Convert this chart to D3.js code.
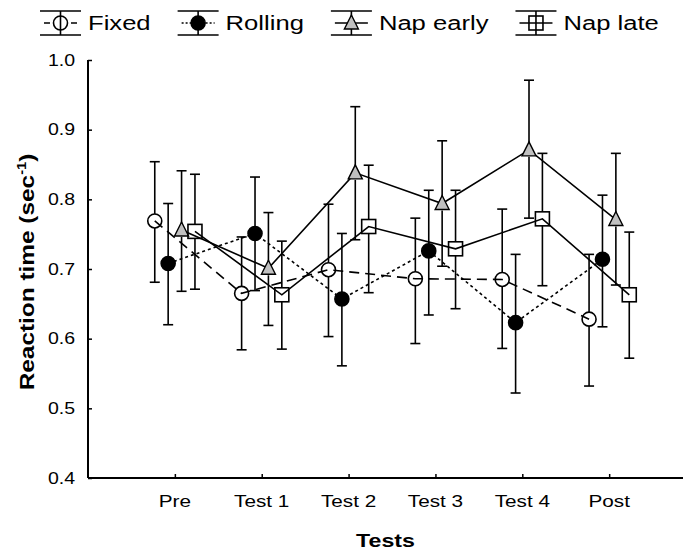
<!DOCTYPE html>
<html lang="en">
  <head>
    <meta charset="UTF-8" />
    <script src="https://d3js.org/d3.v7.min.js"></script>
    <title>Reaction time</title>
    <style>
      body { margin: 0; background: #fff; }
      text { font-family: Arial, "Liberation Sans", sans-serif; fill: #000; }
    </style>
  </head>
  <body>
    <script>
      // tests along the x axis
      let tests = ["Pre", "Test 1", "Test 2", "Test 3", "Test 4", "Post"];
      let yTicks = [0.4, 0.5, 0.6, 0.7, 0.8, 0.9, 1.0];

      // group means and error bar ends, one value per test
      let fixedMean = [0.769, 0.665, 0.699, 0.686, 0.685, 0.628];
      let fixedHi = [0.854, 0.746, 0.793, 0.773, 0.786, 0.721];
      let fixedLo = [0.681, 0.584, 0.603, 0.593, 0.586, 0.532];

      let rollingMean = [0.708, 0.751, 0.657, 0.726, 0.623, 0.714];
      let rollingHi = [0.794, 0.832, 0.751, 0.813, 0.721, 0.806];
      let rollingLo = [0.620, 0.669, 0.561, 0.634, 0.522, 0.617];

      let napEarlyMean = [0.756, 0.701, 0.838, 0.794, 0.871, 0.771];
      let napEarlyHi = [0.841, 0.781, 0.933, 0.884, 0.971, 0.866];
      let napEarlyLo = [0.668, 0.619, 0.742, 0.704, 0.773, 0.677];

      let napLateMean = [0.754, 0.663, 0.761, 0.729, 0.772, 0.663];
      let napLateHi = [0.836, 0.740, 0.849, 0.813, 0.866, 0.753];
      let napLateLo = [0.671, 0.585, 0.666, 0.643, 0.676, 0.572];

      let series = [
        { name: "Fixed", mean: fixedMean, hi: fixedHi, lo: fixedLo, shape: "circle", fill: "none", dash: "10,6", legDash: "6,21" },
        { name: "Rolling", mean: rollingMean, hi: rollingHi, lo: rollingLo, shape: "circle", fill: "#000", dash: "3,3", legDash: "2,2" },
        { name: "Nap early", mean: napEarlyMean, hi: napEarlyHi, lo: napEarlyLo, shape: "triangle", fill: "#c0c0c0", dash: null, legDash: null },
        { name: "Nap late", mean: napLateMean, hi: napLateHi, lo: napLateLo, shape: "square", fill: "none", dash: null, legDash: null }
      ];

      let svg = d3
        .select("body")
        .append("svg")
        .attr("width", 687)
        .attr("height", 553);

      let plotLeft = 88,
        plotRight = 683,
        plotTop = 60,
        plotBottom = 478;

      // category index -> pixel, with room left of "Pre"
      let x = d3.scaleLinear().domain([-1, 5.85]).range([plotLeft, plotRight]);
      let y = d3.scaleLinear().domain([0.4, 1.0]).range([plotBottom, plotTop]);
      let step = 13.4; // horizontal spread between the four groups
      let markR = 7;

      function offset(k) {
        return (k - 1.5) * step;
      }

      // the exported fonts run a bit wide, so text is stretched sideways
      let stretch = 1.22;
      function wideText(parent, tx, ty, size, str, anchor, rotated) {
        let g = parent
          .append("g")
          .attr("transform", `translate(${tx},${ty})${rotated ? " rotate(-90)" : ""} scale(${stretch},1)`);
        return g
          .append("text")
          .attr("text-anchor", anchor)
          .style("font-size", size + "px")
          .text(str);
      }

      // axes
      let yAxis = svg
        .append("g")
        .attr("transform", `translate(${plotLeft},0)`)
        .call(d3.axisRight(y).tickValues(yTicks).tickSize(4).tickFormat(""));
      yAxis.select(".domain").remove();
      yAxis.selectAll("line").attr("stroke-width", 1.5);

      let xAxis = svg
        .append("g")
        .attr("transform", `translate(0,${plotBottom})`)
        .call(d3.axisTop(x).tickValues(d3.range(tests.length)).tickSize(4).tickFormat(""));
      xAxis.select(".domain").remove();
      xAxis.selectAll("line").attr("stroke-width", 1.5);

      svg.append("line")
        .attr("x1", plotLeft).attr("x2", plotLeft)
        .attr("y1", plotTop).attr("y2", plotBottom)
        .attr("stroke", "#000").attr("stroke-width", 2);
      svg.append("line")
        .attr("x1", plotLeft).attr("x2", plotRight)
        .attr("y1", plotBottom).attr("y2", plotBottom)
        .attr("stroke", "#000").attr("stroke-width", 2);

      yTicks.forEach(function (d) {
        wideText(svg, plotLeft - 13, y(d), 16, d3.format(".1f")(d), "end", false).attr("dy", "0.35em");
      });

      tests.forEach(function (d, i) {
        wideText(svg, x(i), plotBottom + 29, 17, d, "middle", false);
      });

      wideText(svg, (plotLeft + plotRight) / 2, 547, 19, "Tests", "middle", false)
        .style("font-weight", "bold");

      let yTitle = wideText(svg, 34, 272, 20, "", "middle", true).style("font-weight", "bold");
      yTitle.append("tspan").text("Reaction time (sec");
      yTitle.append("tspan").attr("dy", -8).style("font-size", "12px").text("-1");
      yTitle.append("tspan").attr("dy", 8).text(")");

      function drawMarker(g, shape, fill, cx, cy) {
        if (shape === "circle") {
          g.append("circle")
            .attr("cx", cx).attr("cy", cy).attr("r", markR)
            .attr("fill", fill).attr("stroke", "#000").attr("stroke-width", 1.6);
        } else if (shape === "triangle") {
          g.append("path")
            .attr("d", `M${cx},${cy - 8}L${cx + 7},${cy + 6}L${cx - 7},${cy + 6}Z`)
            .attr("fill", fill).attr("stroke", "#000").attr("stroke-width", 1.4);
        } else {
          g.append("rect")
            .attr("x", cx - markR).attr("y", cy - markR)
            .attr("width", markR * 2).attr("height", markR * 2)
            .attr("fill", fill).attr("stroke", "#000").attr("stroke-width", 1.6);
        }
      }

      let line = d3.line();

      // error bars stop at the marker edge
      series.forEach(function (s, k) {
        let g = svg.append("g").attr("stroke", "#000").attr("stroke-width", 1.6);
        s.mean.forEach(function (v, i) {
          let cx = x(i) + offset(k);
          let cy = y(v);
          g.append("line").attr("x1", cx).attr("x2", cx).attr("y1", cy - markR).attr("y2", y(s.hi[i]));
          g.append("line").attr("x1", cx).attr("x2", cx).attr("y1", cy + markR).attr("y2", y(s.lo[i]));
          g.append("line").attr("x1", cx - 5).attr("x2", cx + 5).attr("y1", y(s.lo[i])).attr("y2", y(s.lo[i]));
          g.append("line").attr("x1", cx - 5).attr("x2", cx + 5).attr("y1", y(s.hi[i])).attr("y2", y(s.hi[i]));
        });
      });

      // connecting lines
      series.forEach(function (s, k) {
        let pts = s.mean.map((v, i) => [x(i) + offset(k), y(v)]);
        svg.append("path")
          .attr("d", line(pts))
          .attr("fill", "none")
          .attr("stroke", "#000")
          .attr("stroke-width", 1.6)
          .attr("stroke-dasharray", s.dash);
      });

      // markers
      series.forEach(function (s, k) {
        let g = svg.append("g");
        s.mean.forEach(function (v, i) {
          drawMarker(g, s.shape, s.fill, x(i) + offset(k), y(v));
        });
      });

      // legend across the top
      let legY = 23;
      let lx = 40;
      series.forEach(function (s) {
        let g = svg.append("g").attr("stroke", "#000").attr("stroke-width", 1.6);
        let w = 41;
        g.append("line").attr("x1", lx).attr("x2", lx + w).attr("y1", legY - 12).attr("y2", legY - 12);
        g.append("line").attr("x1", lx).attr("x2", lx + w).attr("y1", legY + 12).attr("y2", legY + 12);
        g.append("line").attr("x1", lx + w / 2).attr("x2", lx + w / 2).attr("y1", legY - 12).attr("y2", legY + 12);
        g.append("line").attr("x1", lx + 4).attr("x2", lx + w - 4).attr("y1", legY).attr("y2", legY)
          .attr("stroke-dasharray", s.legDash);
        drawMarker(g, s.shape, s.fill, lx + w / 2, legY);
        let t = wideText(svg, lx + w + 7, legY, 21, s.name, "start", false).attr("dy", "0.35em");
        lx += w + 7 + t.node().getComputedTextLength() * stretch + 27;
      });
    </script>
  </body>
</html>
